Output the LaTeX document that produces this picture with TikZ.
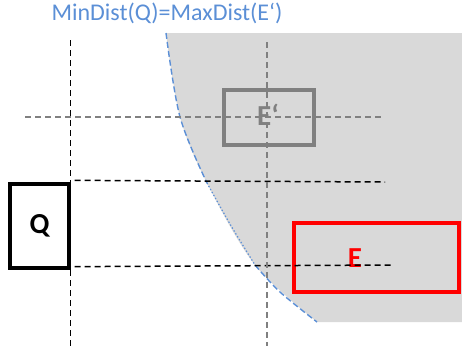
\documentclass[tikz,border=0pt]{standalone}
\usepackage{fontspec}
\setmainfont{Carlito}
\usetikzlibrary{calc}
\definecolor{distblue}{HTML}{5B8FD6}
\definecolor{regiongray}{HTML}{D9D9D9}
\definecolor{boxgray}{HTML}{808080}
\definecolor{boxred}{HTML}{FF0000}
\tikzset{
  box/.style={draw, line width=3.3pt, inner sep=0pt},
  lbl/.style={font=\bfseries\fontsize{29}{32}\selectfont},
  guide/.style={line width=1.5pt, dash pattern=on 6pt off 4pt},
  bound/.style={draw=distblue, line width=1.4pt},
}
\begin{document}
\begin{tikzpicture}[x=1pt,y=-1pt]
\useasboundingbox (0,0) rectangle (462,354);

% region beyond the distance bound
\fill[regiongray] (462,33)
  -- plot[smooth, tension=0.55] coordinates {(166,33) (180,117) (207,183) (255,265) (317,322)}
  -- (462,322) -- cycle;

% distance bound curve: dashed, dotted in the middle
\draw[bound, dash pattern=on 6pt off 3pt]
  plot[smooth, tension=0.55] coordinates {(166,33) (180,117) (207,183)};
\draw[bound, dotted, line width=1.2pt]
  plot[smooth, tension=0.55] coordinates {(207,183) (230,224) (255,265)};
\draw[bound, dash pattern=on 6pt off 3pt]
  plot[smooth, tension=0.55] coordinates {(255,265) (280,292) (317,322)};

\node[font=\fontsize{24}{28}\selectfont, text=distblue] (title) at (167,13) {MinDist(Q)=MaxDist(E‘)};

% boxes
\node[box, lbl, draw=black, minimum width=59pt, minimum height=84pt] (Q) at (39.5,226) {Q};
\node[box, draw=boxgray, minimum width=90pt, minimum height=55pt] (Ep) at (269,117.5) {};
\node[lbl, text=boxgray] (Eplabel) at (268,115) {E‘};
\node[box, draw=boxred, minimum width=165pt, minimum height=69pt] (E) at (376.5,257.5) {};
\node[lbl, text=boxred] (Elabel) at (355,258) {E};

% guide lines through Q
\coordinate (qt) at ($(Q.north east)+(0,-142)$);
\coordinate (qb) at ($(Q.south east)+(0,76)$);
\coordinate (qr1) at (385,182);
\coordinate (qr2) at (393,265);
\draw[guide, black] (qt) -- (qb);
\draw[guide, black] ($(Q.north east)+(4,-2)$) -- (qr1);
\draw[guide, black] ($(Q.south east)+(4,-3)$) -- (qr2);

% guide lines through E'
\coordinate (et) at (267,42);
\coordinate (eb) at (267,346);
\coordinate (el) at (25,117);
\coordinate (er) at (382,117);
\draw[guide, boxgray] (et) -- (eb);
\draw[guide, boxgray] (el) -- (er);
\end{tikzpicture}
\end{document}
